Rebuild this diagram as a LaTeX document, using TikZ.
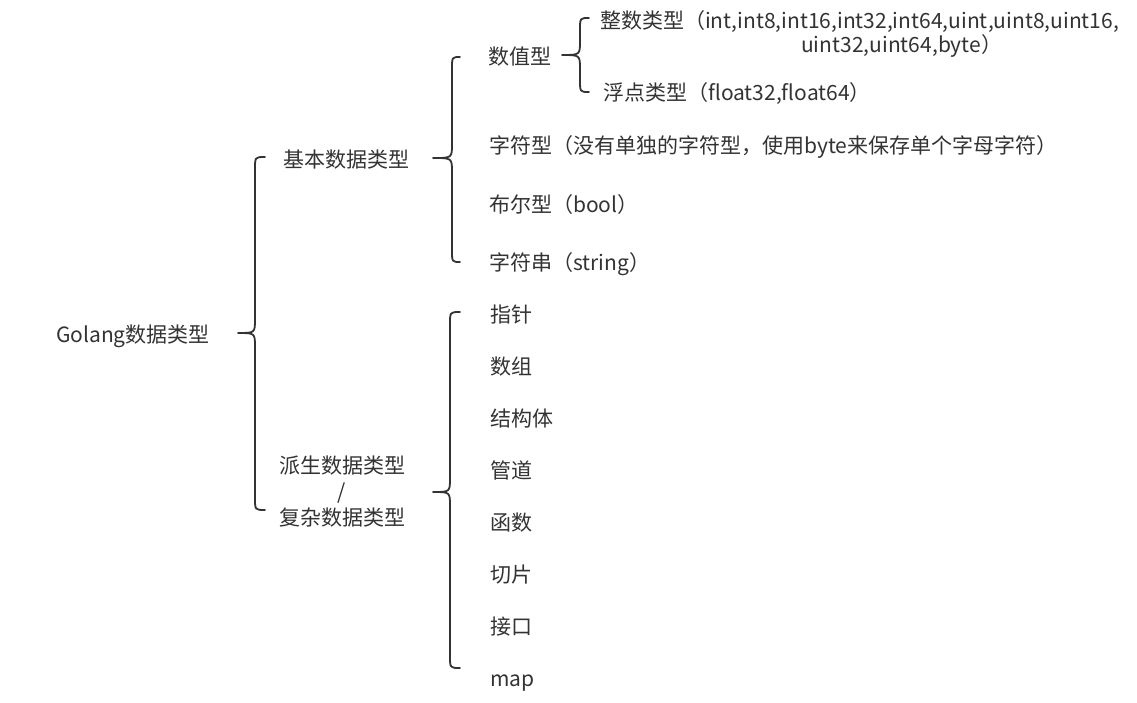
\documentclass[tikz,border=0pt]{standalone}
\usepackage{fontspec}
\setmainfont{Noto Sans CJK SC}
\usetikzlibrary{positioning}
\definecolor{inkGray}{HTML}{333333}

\begin{document}
\begin{tikzpicture}[
        x=1pt, y=-1pt,
        plainText/.style={
            text=inkGray,
            font=\fontsize{21}{24}\selectfont,
            inner sep=0pt
        },
        typeText/.style={
            plainText,
            text height=18pt,
            text depth=3pt
        },
        leaf/.style={
            typeText,
            anchor=west
        },
        bracket/.style={
            draw=inkGray,
            line width=1.8pt,
            line cap=round,
            line join=round
        }
    ]

        % Page
        \fill[white] (0,0) rectangle (1137,703);
        \useasboundingbox (0,0) rectangle (1137,703);

        % Root and the two main groups
        \node[typeText] (golang) at (133,335) {Golang数据类型};
        \node[typeText] (basic) at (346,160) {基本数据类型};
        \node[
            plainText,
            align=center,
            font=\fontsize{21}{26}\selectfont
        ] (derived) at (342,492) {派生数据类型\\/\\复杂数据类型};

        % Basic types
        \node[leaf] (numeric) at (488,57) {数值型};
        \node[leaf] (charType) at (489,146) {字符型（没有单独的字符型，使用byte来保存单个字母字符）};
        \node[leaf] (boolType) at (489,205) {布尔型（bool）};
        \node[leaf] (strType) at (489,263) {字符串（string）};

        % Numeric types
        \node[plainText, anchor=west, align=left] (intType) at (600,34)
            {整数类型（int,int8,int16,int32,int64,uint,uint8,uint16,\\
             \hspace*{201pt}uint32,uint64,byte）};
        \node[leaf] (floatType) at (603,93) {浮点类型（float32,float64）};

        % Derived types
        \foreach \name/\caption [count=\i from 0] in
            {pointer/指针, array/数组, struct/结构体, channel/管道,
             function/函数, slice/切片, iface/接口, map/map}
        {
            \node[leaf] (\name) at (490,315+52*\i) {\caption};
        }

        % Curly brackets: tip x / spine x / middle x / top y / middle y / bottom y
        \foreach \xTip/\xSpine/\xMid/\yTop/\yMid/\yBot in
            {265/255/238/157/333/510,
             460/452/433/57/158/262,
             460/450/433/312/492/668,
             589/580/562/18/55/92}
        {
            \draw[bracket]
                (\xTip,\yTop)
                .. controls (\xSpine,\yTop) .. (\xSpine,\yTop+12)
                -- (\xSpine,\yMid-14)
                .. controls (\xSpine,\yMid) .. (\xMid,\yMid)
                .. controls (\xSpine,\yMid) .. (\xSpine,\yMid+14)
                -- (\xSpine,\yBot-12)
                .. controls (\xSpine,\yBot) .. (\xTip,\yBot);
        }

    \end{tikzpicture}
\end{document}
